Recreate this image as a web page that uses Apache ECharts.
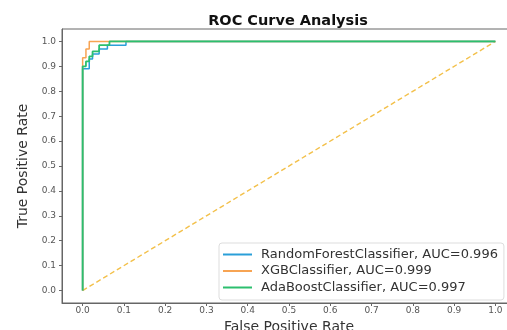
<!DOCTYPE html>
<html><head><meta charset="utf-8">
<script src="https://cdn.jsdelivr.net/npm/echarts@6/dist/echarts.min.js"></script>
<style>html,body{margin:0;padding:0;background:#fff}#c{width:507px;height:330px}</style>
</head><body><div id="c"></div>
<script>
const titleText = 'ROC Curve Analysis';
const xName = 'False Positive Rate';
const yName = 'True Positive Rate';
const tickValues = [0,0.1,0.2,0.3,0.4,0.5,0.6,0.7,0.8,0.9,1.0];
const seriesNames = ['RandomForestClassifier, AUC=0.996','XGBClassifier, AUC=0.999','AdaBoostClassifier, AUC=0.997'];
const rfFpr = [0,0,0.016,0.016,0.024,0.024,0.04,0.04,0.06,0.06,0.105,0.105,1];
const rfTpr = [0,0.89,0.89,0.93,0.93,0.95,0.95,0.97,0.97,0.985,0.985,1,1];
const xgbFpr = [0,0,0.008,0.008,0.016,0.016,1];
const xgbTpr = [0,0.935,0.935,0.97,0.97,1,1];
const adaFpr = [0,0,0.008,0.008,0.016,0.016,0.024,0.024,0.04,0.04,0.065,0.065,1];
const adaTpr = [0,0.90,0.90,0.92,0.92,0.94,0.94,0.96,0.96,0.985,0.985,1,1];
const diagX = [0,1];
const diagY = [0,1];
const colors = ['#2a9fd8','#f7a453','#2cbf6e'];

const zip = (a,b)=>a.map((v,i)=>[v,b[i]]);
const chart = echarts.init(document.getElementById('c'));
const tickStyle = {color:'#555',fontSize:9,fontFamily:'DejaVu Sans'};
chart.setOption({
  animation:false,
  title:{text:titleText,left:283,textAlign:'center',top:9,textStyle:{fontFamily:'DejaVu Sans',fontWeight:'bold',fontSize:14.5,color:'#111'}},
  grid:{left:62,top:29,width:454,height:274,show:true,borderColor:'#666',borderWidth:1,backgroundColor:'#fff',outerBoundsMode:'none',containLabel:false},
  xAxis:{type:'value',min:-0.05,max:1.05,name:xName,nameLocation:'middle',nameGap:16,
    nameTextStyle:{fontFamily:'DejaVu Sans',fontSize:14,color:'#333'},
    axisLine:{show:true,onZero:false,lineStyle:{color:'#666'}},splitLine:{show:false},
    axisTick:{show:true,length:3,customValues:tickValues,lineStyle:{color:'#666'}},
    axisLabel:Object.assign({customValues:tickValues,margin:3,formatter:v=>v.toFixed(1)},tickStyle)},
  yAxis:{type:'value',min:-0.05,max:1.05,name:yName,nameLocation:'middle',nameGap:30,
    nameTextStyle:{fontFamily:'DejaVu Sans',fontSize:14,color:'#333'},
    axisLine:{show:true,onZero:false,lineStyle:{color:'#666'}},splitLine:{show:false},
    axisTick:{show:true,length:3,customValues:tickValues,lineStyle:{color:'#666'}},
    axisLabel:Object.assign({customValues:tickValues,margin:6,formatter:v=>v.toFixed(1)},tickStyle)},
  legend:{left:219,top:243,orient:'vertical',itemGap:3.5,itemWidth:29,itemHeight:2,icon:'rect',
    padding:[5,6,6,4],borderColor:'#ddd',borderWidth:1,borderRadius:3,backgroundColor:'rgba(255,255,255,0.85)',
    textStyle:{fontFamily:'DejaVu Sans',fontSize:13,color:'#333',padding:[0,0,0,4]},data:seriesNames},
  series:[
    {name:seriesNames[0],type:'line',data:zip(rfFpr,rfTpr),showSymbol:false,symbol:'none',lineStyle:{color:colors[0],width:1.5},itemStyle:{color:colors[0]}},
    {name:seriesNames[1],type:'line',data:zip(xgbFpr,xgbTpr),showSymbol:false,symbol:'none',lineStyle:{color:colors[1],width:1.5},itemStyle:{color:colors[1]}},
    {name:seriesNames[2],type:'line',data:zip(adaFpr,adaTpr),showSymbol:false,symbol:'none',lineStyle:{color:colors[2],width:1.8},itemStyle:{color:colors[2]}},
    {name:'diag',type:'line',data:zip(diagX,diagY),showSymbol:false,symbol:'none',z:1,lineStyle:{color:'#f3c04a',width:1.4,type:[5,3]}}
  ]
});
</script></body></html>
